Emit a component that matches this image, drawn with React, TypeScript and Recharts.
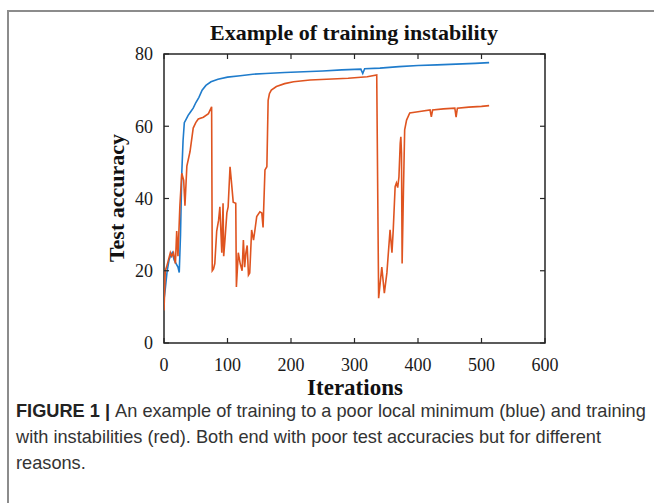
import React from 'react';
import { LineChart, Line, XAxis, YAxis, ReferenceArea } from 'recharts';

// blue run: training stuck in a poor local minimum
const blueIter = [
  0, 2, 5, 8, 10, 13, 16, 19, 22, 24,
  26, 28, 30, 32, 35, 38, 42, 46, 50, 55,
  60, 66, 74, 85, 100, 120, 140, 160, 190, 220,
  250, 280, 310, 313, 316, 340, 370, 400, 430, 460,
  490, 512
];
const blueAcc = [
  12, 15, 20, 23, 24, 25, 23, 22, 21, 19.5,
  30, 47, 56, 61, 62, 63, 64, 65, 66.5, 68,
  70, 71.3, 72.3, 73, 73.6, 74, 74.4, 74.6, 74.9, 75.1,
  75.3, 75.6, 75.8, 74.6, 75.9, 76.1, 76.5, 76.8, 77, 77.2,
  77.4, 77.6
];

// red run: training with instabilities
const redIter = [
  0, 2, 4, 7, 10, 12, 15, 18, 20, 22,
  25, 28, 31, 33, 36, 41, 46, 50, 54, 62,
  70, 75, 76, 78, 80, 83, 86, 88, 91, 93,
  94, 96, 99, 101, 104, 106, 109, 113, 114, 117,
  120, 123, 125, 127, 129, 131, 133, 135, 138, 141,
  143, 146, 151, 154, 156, 159, 162, 163, 164, 166,
  169, 177, 190, 204, 230, 256, 290, 320, 335, 338,
  343, 347, 351, 356, 359, 361, 364, 366, 368, 370,
  372, 373, 374, 375, 377, 379, 382, 387, 400, 419,
  421, 423, 440, 458, 460, 462, 480, 500, 512
];
const redAcc = [
  9, 20, 21, 23, 25, 24, 25, 22, 31, 24,
  38, 47, 45, 38, 49, 53, 59.5, 61, 62, 62.5,
  63.5, 65.4, 20, 20.5, 22, 31, 34, 37.7, 25, 38.7,
  24, 28.5, 36, 37.7, 48.8, 45, 39, 38.7, 15.5, 25,
  22, 20, 28.5, 21, 25, 27, 18.8, 19.4, 31.3, 28.5,
  31, 35, 36.3, 36, 32, 47.9, 48.8, 58, 67.2, 69,
  70, 71, 71.8, 72.3, 72.8, 73, 73.3, 73.7, 74.2, 12.4,
  21, 13.8, 19.4, 31.3, 25, 31.3, 43.3, 44.3, 43, 46,
  55.3, 57.1, 52.6, 22, 41.4, 59, 61.7, 63.7, 64, 64.5,
  62.6, 64.5, 64.8, 65, 62.5, 65, 65.3, 65.5, 65.7
];

const xTicks = [0, 100, 200, 300, 400, 500, 600];
const yTicks = [0, 20, 40, 60, 80];

const captionLines = [
  'An example of training to a poor local minimum (blue) and training',
  'with instabilities (red). Both end with poor test accuracies but for different',
  'reasons.'
];

const blueData = blueIter.map((it, i) => ({ it, acc: blueAcc[i] }));
const redData = redIter.map((it, i) => ({ it, acc: redAcc[i] }));

const serif = '"Liberation Serif", "Times New Roman", serif';
const sans = '"Liberation Sans", Arial, sans-serif';
const axisColor = '#262626';

// plot box in chart pixels (matches the margins below)
const PLOT_LEFT = 164;
const PLOT_RIGHT = 545;
const PLOT_TOP = 54;
const PLOT_BOTTOM = 343;
const TICK_LEN = 5;

// matlab style: ticks point inward on all four sides
const XTick = (props: any) => {
  const { x, y, payload } = props;
  return (
    <g>
      <line x1={x} x2={x} y1={PLOT_BOTTOM} y2={PLOT_BOTTOM - TICK_LEN} stroke={axisColor} strokeWidth={1.2} />
      <line x1={x} x2={x} y1={PLOT_TOP} y2={PLOT_TOP + TICK_LEN} stroke={axisColor} strokeWidth={1.2} />
      <text x={x} y={y} dy="0.71em" textAnchor="middle" fontFamily={serif} fontSize={18} fill="#1a1a1a">
        {payload.value}
      </text>
    </g>
  );
};

const YTick = (props: any) => {
  const { x, y, payload } = props;
  return (
    <g>
      <line x1={PLOT_LEFT} x2={PLOT_LEFT + TICK_LEN} y1={y} y2={y} stroke={axisColor} strokeWidth={1.2} />
      <line x1={PLOT_RIGHT} x2={PLOT_RIGHT - TICK_LEN} y1={y} y2={y} stroke={axisColor} strokeWidth={1.2} />
      <text x={x} y={y} dy="0.35em" textAnchor="end" fontFamily={serif} fontSize={18} fill="#1a1a1a">
        {payload.value}
      </text>
    </g>
  );
};

export default function App() {
  return (
    <div style={{ position: 'fixed', left: 0, top: 0, width: 654, height: 503, background: '#fff', overflow: 'hidden' }}>
      {/* figure frame, only left and top edges are in view */}
      <div style={{ position: 'absolute', left: 7, top: 10, width: 700, height: 600, borderLeft: '2px solid #8c8c8c', borderTop: '2px solid #8c8c8c' }} />

      <div style={{ position: 'absolute', left: 154, width: 400, top: 20, textAlign: 'center', fontFamily: serif, fontWeight: 'bold', fontSize: 22, lineHeight: '26px', color: '#111' }}>
        Example of training instability
      </div>

      <div style={{ position: 'absolute', left: 0, top: 0 }}>
        <LineChart width={654} height={400} margin={{ top: PLOT_TOP, right: 654 - PLOT_RIGHT, bottom: 27, left: PLOT_LEFT - 40 }}>
          <XAxis
            type="number"
            dataKey="it"
            domain={[0, 600]}
            ticks={xTicks}
            interval={0}
            allowDataOverflow
            height={30}
            axisLine={false}
            tickLine={false}
            tickSize={0}
            tickMargin={15}
            tick={XTick}
          />
          <YAxis
            type="number"
            domain={[0, 80]}
            ticks={yTicks}
            interval={0}
            width={40}
            axisLine={false}
            tickLine={false}
            tickSize={0}
            tickMargin={11}
            tick={YTick}
          />
          <ReferenceArea x1={0} x2={600} y1={0} y2={80} fill="none" stroke={axisColor} strokeWidth={1.5} />
          <Line
            data={blueData}
            dataKey="acc"
            type="linear"
            stroke="#1f7ccc"
            strokeWidth={1.6}
            dot={false}
            isAnimationActive={false}
          />
          <Line
            data={redData}
            dataKey="acc"
            type="linear"
            stroke="#df5420"
            strokeWidth={1.6}
            dot={false}
            isAnimationActive={false}
          />
        </LineChart>
      </div>

      <div style={{ position: 'absolute', left: 117, top: 198, width: 0, height: 0 }}>
        <div style={{ position: 'absolute', left: -100, top: -13, width: 200, textAlign: 'center', transform: 'rotate(-90deg)', fontFamily: serif, fontWeight: 'bold', fontSize: 22, lineHeight: '26px', color: '#111', whiteSpace: 'nowrap' }}>
          Test accuracy
        </div>
      </div>

      <div style={{ position: 'absolute', left: 255, width: 200, top: 379, textAlign: 'center', fontFamily: serif, fontWeight: 'bold', fontSize: 23, lineHeight: '17px', color: '#111' }}>
        Iterations
      </div>

      <div style={{ position: 'absolute', left: 16, top: 398, fontFamily: sans, fontSize: 18.2, lineHeight: '26px', color: '#333', whiteSpace: 'nowrap' }}>
        {captionLines.map((line, i) => (
          <div key={i}>
            {i === 0 && <span style={{ fontWeight: 'bold', color: '#222' }}>FIGURE 1 | </span>}
            {line}
          </div>
        ))}
      </div>
    </div>
  );
}
